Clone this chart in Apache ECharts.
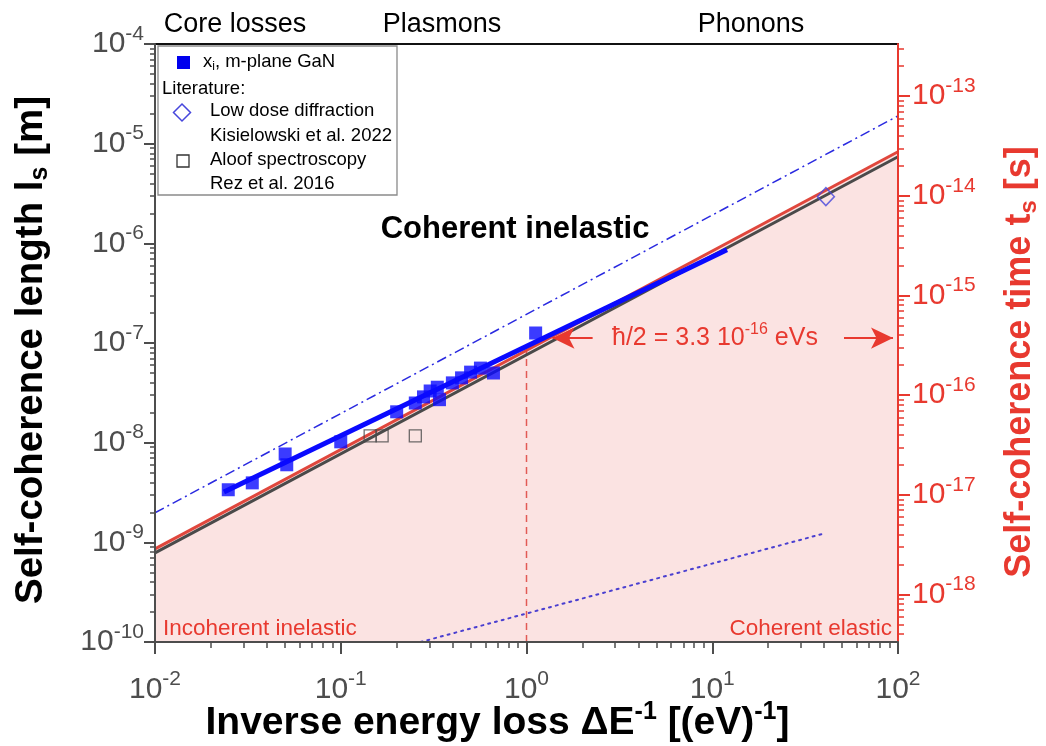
<!DOCTYPE html>
<html><head><meta charset="utf-8">
<script src="https://cdn.jsdelivr.net/npm/echarts@6/dist/echarts.min.js"></script>
<style>html,body{margin:0;padding:0;background:#fff}#c{width:1046px;height:746px}</style>
</head><body><div id="c"></div>
<script>
// ---------- data ----------
const xMajor = [0.01, 0.1, 1, 10, 100];
const yMajor = [1e-10, 1e-9, 1e-8, 1e-7, 1e-6, 1e-5, 1e-4];
const tMajor = [1e-18, 1e-17, 1e-16, 1e-15, 1e-14, 1e-13];
const lightSpeed = 299792458; // t_s = l_s / c
const gaN = [[0.0248,3.37e-9],[0.0334,3.95e-9],[0.0502,7.7e-9],[0.0512,6.0e-9],[0.1,1.02e-8],
  [0.2,2.04e-8],[0.252,2.5e-8],[0.279,2.88e-8],[0.303,3.3e-8],[0.331,3.6e-8],[0.34,2.7e-8],
  [0.399,3.98e-8],[0.447,4.47e-8],[0.5,5.1e-8],[0.565,5.6e-8],[0.664,5.0e-8],[1.12,1.26e-7]];
const gaNFit = [[0.0235,3.2e-9],[12,8.6e-7]];
const hbarLine = [[0.01,8.6e-10],[100,8.3e-6]];
const greyLine = [[0.01,7.85e-10],[100,7.4e-6]];
const dashDotLine = [[0.01,1.98e-9],[100,1.9e-5]];
const dottedLine = [[0.269,1e-10],[40.9,1.24e-9]];
const aloof = [[0.144,1.17e-8],[0.167,1.17e-8],[0.252,1.17e-8]];
const lowDose = [[40.9,2.94e-6]];
const unityLine = [[1,1e-10],[1,8.4e-8]];
const arrowLeft = [[2.27,1.12e-7],[1.38,1.12e-7]];
const arrowRight = [[51.2,1.12e-7],[94,1.12e-7]];

// ---------- helpers ----------
const FONT = 'Liberation Sans, Arial, sans-serif';
const GREY = '#4d4d4d', RED = '#e8392f', BLUE = '#0a0aff', PINK = '#fbe3e2';
function minorTicks(lo, hi) {
  const out = [];
  for (let e = Math.floor(Math.log10(lo)) - 1; e <= Math.ceil(Math.log10(hi)); e++)
    for (let k = 2; k <= 9; k++) { const v = k * Math.pow(10, e); if (v > lo && v < hi) out.push(v); }
  return out;
}
function powLabel(v) { return '{a|10}{b|' + Math.round(Math.log10(v)) + '}'; }
function richPow(color) {
  return { a: { fontSize: 30, fontFamily: FONT, color: color },
           b: { fontSize: 21, fontFamily: FONT, color: color, padding: [0,0,20,0] } };
}
const xMin = 0.01, xMax = 100, yMin = 1e-10, yMax = 1e-4;
const tMin = yMin / lightSpeed, tMax = yMax / lightSpeed;

const gridBox = { left: 155, right: 148, top: 44, bottom: 104, containLabel: false, outerBoundsMode: 'none' };

const chart = echarts.init(document.getElementById('c'), null, { renderer: 'canvas' });
const option = {
  animation: false,
  backgroundColor: '#fff',
  grid: [
    Object.assign({ show: true, borderColor: '#111', borderWidth: 2, backgroundColor: 'transparent' }, gridBox),
    Object.assign({ show: false }, gridBox)
  ],
  xAxis: [
    { type: 'log', gridIndex: 0, min: xMin, max: xMax, position: 'bottom', z: 5,
      axisLine: { lineStyle: { color: GREY, width: 2 } },
      axisTick: { inside: false, length: 12, customValues: xMajor, lineStyle: { color: GREY, width: 2 } },
      axisLabel: { customValues: xMajor, formatter: powLabel, rich: richPow(GREY), margin: 27 },
      splitLine: { show: false },
      name: 'Inverse energy loss ΔE{s|-1} [(eV){s|-1}]', nameLocation: 'middle', nameGap: 58, nameMoveOverlap: false,
      nameTextStyle: { fontSize: 39, fontWeight: 'bold', fontFamily: FONT, color: '#000', padding: [0,58,0,0],
        rich: { s: { fontSize: 25, fontWeight: 'bold', fontFamily: FONT, color: '#000', padding: [0,0,22,0] } } }
    },
    { type: 'log', gridIndex: 1, min: xMin, max: xMax, position: 'bottom', z: 5,
      axisLine: { show: false },
      axisTick: { length: 6, customValues: minorTicks(xMin, xMax), lineStyle: { color: GREY, width: 1.5 } },
      axisLabel: { show: false }, splitLine: { show: false } }
  ],
  yAxis: [
    { type: 'log', gridIndex: 0, min: yMin, max: yMax, position: 'left', z: 5,
      axisLine: { show: true, lineStyle: { color: GREY, width: 2 } },
      axisTick: { length: 11, customValues: yMajor, lineStyle: { color: GREY, width: 2 } },
      axisLabel: { customValues: yMajor, formatter: powLabel, rich: richPow(GREY), margin: 11 },
      splitLine: { show: false },
      name: 'Self-coherence length l{s|s} [m]', nameLocation: 'middle', nameGap: 102, nameMoveOverlap: false,
      nameTextStyle: { fontSize: 38.5, fontWeight: 'bold', fontFamily: FONT, color: '#000', padding: [0,14,0,0],
        rich: { s: { fontSize: 25, fontWeight: 'bold', fontFamily: FONT, color: '#000', padding: [18,0,0,0] } } }
    },
    { type: 'log', gridIndex: 0, min: tMin, max: tMax, position: 'right', z: 5,
      axisLine: { show: true, lineStyle: { color: RED, width: 2 } },
      axisTick: { length: 12, customValues: tMajor, lineStyle: { color: RED, width: 2 } },
      axisLabel: { customValues: tMajor, formatter: powLabel, rich: richPow(RED), margin: 14 },
      splitLine: { show: false },
      name: 'Self-coherence time t{s|s} [s]', nameLocation: 'middle', nameGap: 101, nameMoveOverlap: false,
      nameTextStyle: { fontSize: 36, fontWeight: 'bold', fontFamily: FONT, color: RED, padding: [0,38,0,0],
        rich: { s: { fontSize: 24, fontWeight: 'bold', fontFamily: FONT, color: RED, padding: [18,0,0,0] } } }
    },
    { type: 'log', gridIndex: 1, min: yMin, max: yMax, position: 'left', z: 5,
      axisLine: { show: false },
      axisTick: { length: 5, customValues: minorTicks(yMin, yMax), lineStyle: { color: GREY, width: 1.5 } },
      axisLabel: { show: false }, splitLine: { show: false } },
    { type: 'log', gridIndex: 1, min: tMin, max: tMax, position: 'right', z: 5,
      axisLine: { show: false },
      axisTick: { length: 6, customValues: minorTicks(tMin, tMax), lineStyle: { color: RED, width: 1.5 } },
      axisLabel: { show: false }, splitLine: { show: false } }
  ],
  series: [
    { name: 'fill', type: 'line', data: hbarLine, symbol: 'none', z: 1,
      lineStyle: { width: 0 }, areaStyle: { color: PINK, opacity: 1, origin: 'start' } },
    { name: 'dotted', type: 'line', data: dottedLine, symbol: 'none', z: 2,
      lineStyle: { color: '#4a3fd0', width: 2, type: [2, 5], cap: 'round' } },
    { name: 'unity', type: 'line', data: unityLine, symbol: 'none', z: 2,
      lineStyle: { color: '#e25a55', width: 1.5, type: [7, 5] } },
    { name: 'grey', type: 'line', data: greyLine, symbol: 'none', z: 3,
      lineStyle: { color: '#4a4a4a', width: 3 } },
    { name: 'hbar', type: 'line', data: hbarLine, symbol: 'none', z: 3,
      lineStyle: { color: '#e0473d', width: 3 } },
    { name: 'dashdot', type: 'line', data: dashDotLine, symbol: 'none', z: 3,
      lineStyle: { color: '#2a2ae0', width: 1.5, type: [10, 4, 2, 4] } },
    { name: 'Aloof spectroscopy', type: 'scatter', data: aloof, symbol: 'rect', symbolSize: 12, z: 4,
      itemStyle: { color: 'rgba(0,0,0,0)', borderColor: '#4a4a4a', borderWidth: 1.3 } },
    { name: 'fit', type: 'line', data: gaNFit, symbol: 'none', z: 4,
      lineStyle: { color: BLUE, width: 5 } },
    { name: 'x_i, m-plane GaN', type: 'scatter', data: gaN, symbol: 'rect', symbolSize: 13, z: 5,
      itemStyle: { color: BLUE } },
    { name: 'Low dose diffraction', type: 'scatter', data: lowDose, symbol: 'diamond', symbolSize: [17, 18], z: 5,
      itemStyle: { color: 'rgba(0,0,0,0)', borderColor: '#4646dc', borderWidth: 1.5 } },
    { name: 'arrows', type: 'line', data: [], z: 5,
      markLine: { silent: true, symbol: ['none', 'arrow'], symbolSize: [16, 22], label: { show: false },
        lineStyle: { color: RED, width: 2, type: 'solid' },
        data: [
          [{ coord: arrowLeft[0] }, { coord: arrowLeft[1] }],
          [{ coord: arrowRight[0] }, { coord: arrowRight[1] }]
        ] } }
  ],
  graphic: [
    { type: 'text', x: 235, y: 25, z: 10, style: { text: 'Core losses', fontSize: 27, fontFamily: FONT, fill: '#000', align: 'center', verticalAlign: 'middle' } },
    { type: 'text', x: 442, y: 25, z: 10, style: { text: 'Plasmons', fontSize: 27, fontFamily: FONT, fill: '#000', align: 'center', verticalAlign: 'middle' } },
    { type: 'text', x: 751, y: 25, z: 10, style: { text: 'Phonons', fontSize: 27, fontFamily: FONT, fill: '#000', align: 'center', verticalAlign: 'middle' } },
    { type: 'text', x: 515, y: 229, z: 10, style: { text: 'Coherent inelastic', fontSize: 31, fontWeight: 'bold', fontFamily: FONT, fill: '#000', align: 'center', verticalAlign: 'middle' } },
    { type: 'text', x: 163, y: 629, z: 10, style: { text: 'Incoherent inelastic', fontSize: 22.5, fontFamily: FONT, fill: RED, align: 'left', verticalAlign: 'middle' } },
    { type: 'text', x: 892, y: 629, z: 10, style: { text: 'Coherent elastic', fontSize: 22.5, fontFamily: FONT, fill: RED, align: 'right', verticalAlign: 'middle' } },
    { type: 'text', x: 612, y: 338, z: 10, style: { text: 'ħ/2 = 3.3 10{s|-16} eVs', fontSize: 25, fontFamily: FONT, fill: RED, align: 'left', verticalAlign: 'middle',
        rich: { s: { fontSize: 16, fontFamily: FONT, fill: RED, color: RED, padding: [0,0,16,0] } } } },
    { type: 'rect', z: 10, shape: { x: 158, y: 46, width: 239, height: 149 }, style: { fill: '#fff', stroke: '#8a8a8a', lineWidth: 1.3 } },
    { type: 'rect', z: 11, shape: { x: 177, y: 56, width: 13, height: 13 }, style: { fill: '#0000ee' } },
    { type: 'text', x: 203, y: 62, z: 11, style: { text: 'x{s|i}, m-plane GaN', fontSize: 18.5, fontFamily: FONT, fill: '#000', verticalAlign: 'middle',
        rich: { s: { fontSize: 12, fontFamily: FONT, padding: [10,0,0,0] } } } },
    { type: 'text', x: 162, y: 89, z: 11, style: { text: 'Literature:', fontSize: 18.5, fontFamily: FONT, fill: '#000', verticalAlign: 'middle' } },
    { type: 'polygon', z: 11, shape: { points: [[182,104],[190.5,112.5],[182,121],[173.5,112.5]] }, style: { fill: 'none', stroke: '#4646dc', lineWidth: 1.5 } },
    { type: 'text', x: 210, y: 111, z: 11, style: { text: 'Low dose diffraction', fontSize: 18.5, fontFamily: FONT, fill: '#000', verticalAlign: 'middle' } },
    { type: 'text', x: 210, y: 136, z: 11, style: { text: 'Kisielowski et al. 2022', fontSize: 18.5, fontFamily: FONT, fill: '#000', verticalAlign: 'middle' } },
    { type: 'rect', z: 11, shape: { x: 177, y: 155, width: 12, height: 12 }, style: { fill: 'none', stroke: '#333', lineWidth: 1.3 } },
    { type: 'text', x: 210, y: 160, z: 11, style: { text: 'Aloof spectroscopy', fontSize: 18.5, fontFamily: FONT, fill: '#000', verticalAlign: 'middle' } },
    { type: 'text', x: 210, y: 184, z: 11, style: { text: 'Rez et al. 2016', fontSize: 18.5, fontFamily: FONT, fill: '#000', verticalAlign: 'middle' } }
  ]
};
chart.setOption(option);
</script></body></html>
